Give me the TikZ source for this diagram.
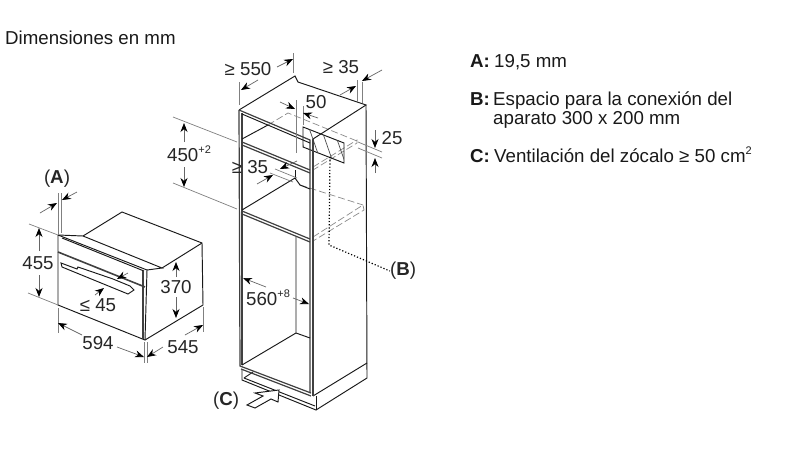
\documentclass[tikz,border=0pt]{standalone}
\usepackage{fontspec}
\setmainfont{Liberation Sans}
\usepackage{tikz}
\usetikzlibrary{calc, positioning, arrows.meta}

\tikzset{
	outline/.style={draw=black!90, line width=0.95pt},
	edge/.style={draw=black!75, line width=1.2pt},
	extline/.style={draw=black!50, line width=0.7pt},
	dimline/.style={draw=black!60, line width=0.7pt, -{Stealth[length=9pt, width=7pt, black]}},
	hidden/.style={draw=black!45, line width=0.7pt, dash pattern=on 7pt off 3pt},
	dimtext/.style={font=\fontsize{18.7}{21}\selectfont, text=black!85, inner sep=0pt},
	infotext/.style={font=\fontsize{18.7}{21}\selectfont, text=black!90, inner sep=0pt, anchor=base west}
}
\newcommand{\supertext}[1]{\raisebox{0.42em}{\fontsize{11}{11}\selectfont #1}}

\begin{document}
\begin{tikzpicture}[x=1pt, y=-1pt]
	\useasboundingbox (0,0) rectangle (800,450);
	\fill[white] (0,0) rectangle (800,450);

	\node[infotext] (title) at (5,44) {Dimensiones en mm};

	\node[infotext] (infoA) at (470,67) {\textbf{A:}};
	\node[infotext] (textA) at (494,67) {19,5 mm};
	\node[infotext] (infoB) at (470,105) {\textbf{B:}};
	\node[infotext] (textB) at (493,105) {Espacio para la conexión del};
	\node[infotext] (textBb) at (493,124) {aparato 300 x 200 mm};
	\node[infotext] (infoC) at (470,162) {\textbf{C:}};
	\node[infotext] (textC) at (494,162) {Ventilación del zócalo ≥ 50 cm\supertext{2}};

	% oven
	\coordinate (ovenfl) at (58,235);
	\coordinate (ovenbl) at (58,305);
	\coordinate (ovenbr) at (145,340);
	\coordinate (ovenfr) at (147,270);
	\coordinate (ovensb) at (203,305);
	\coordinate (ovenst) at (202,243);
	\coordinate (oventb) at (122,212);
	\coordinate (oventl) at (83,236);
	\coordinate (oventr) at (162,268);

	\draw[outline] (ovenfl) -- (ovenbl) -- (ovenbr) -- (ovensb) -- (ovenst) -- (oventb) -- (oventl) -- (ovenfl);
	\draw[outline] (oventl) -- (oventr) -- (ovenfr) -- (ovenbr);
	\draw[outline] (oventr) -- (ovenst);
	\draw[outline] (ovenfl) -- (ovenfr);
	\draw[outline] (62,238) -- (144,271);
	\draw[edge] (143,271) -- (143,339);
	\draw[edge, line width=1.6pt] (58,252) -- (145,287);
	\draw[outline, fill=white] (61,263) -- (62,267) -- (128,294) -- (134,290) -- (130,286) -- (113,279) -- (78,267) -- (77,269) -- cycle;

	% cabinet
	\coordinate (cabtl) at (239,110);
	\coordinate (cabtb) at (295,76);
	\coordinate (cabtr) at (366,105);
	\coordinate (cabtf) at (313,139);
	\coordinate (cabbr) at (367,378);
	\coordinate (cabbf) at (316,410);
	\coordinate (cabbl) at (240,366);
	\coordinate (cabpf) at (311,393);

	\draw[hidden] (268,125) -- (288,113) -- (357,141);
	\draw[hidden] (300,185) -- (363,205);
	\draw[hidden] (313,167) -- (357,140) -- (357,143) -- (313,170);
	\draw[hidden] (313,237) -- (363,205) -- (364,210) -- (313,241);

	\draw[outline] (cabtl) -- (cabtb) -- (298,82) -- (cabtr) -- (cabtf);
	\draw[outline] (cabtr) -- (cabbr) -- (cabbf) -- (242,380) -- (242,370);
	\draw[outline] (367,363) -- (313,396);
	\draw[outline] (244,378) -- (315,406);
	\draw[outline] (244,378) -- (253,372);
	\draw[outline] (316,396) -- (cabbf);

	% hatched opening
	\draw[outline] (303,127) -- (344,143) -- (344,163) -- (303,147) -- cycle;
	\begin{scope}
		\clip (303,127) -- (344,143) -- (344,163) -- (303,147) -- cycle;
		\foreach \hx in {296,308,...,356} {
			\draw[black!70, line width=0.7pt] (\hx,125) -- (\hx+15,168);
		}
	\end{scope}

	\draw[edge] (cabtl) -- (cabbl) -- (cabpf);
	\draw[edge] (242,113) -- (242,365);
	\draw[edge] (cabtl) -- (310,140) -- (310,393);
	\draw[edge] (313,139) -- (313,396);
	\draw[outline] (242,114) -- (310,143);

	\draw[outline] (242,139) -- (268,125);
	\draw[edge] (242,142) -- (310,170);
	\draw[edge] (242,145) -- (310,173);
	\draw[outline] (242,210) -- (295,178) -- (300,185) -- (310,189);
	\draw[outline] (295,170) -- (295,178);
	\draw[edge] (242,211) -- (310,239);
	\draw[edge] (242,214) -- (310,242);
	\draw[outline] (296,237) -- (296,333) -- (242,365);
	\draw[outline] (296,333) -- (310,338);
	\draw[edge] (241,369) -- (311,396);

	% dotted lead to (B)
	\coordinate (leadtop) at (330,157);
	\coordinate (leadbend) at (329,245);
	\node[dimtext] (labelB) at (403,271) {(\textbf{B})};
	\draw[black, line width=1.2pt, dotted] (leadtop) -- (leadbend) -- (labelB.west);

	% arrow (C)
	\node[dimtext] (labelC) at (226,401) {(\textbf{C})};
	\draw[outline, fill=white] (279,390) -- (278,402) -- (271,399) -- (255,408) -- (247,405) -- (263,396) -- (255,393) -- cycle;

	% oven dimensions
	\node[dimtext] (labelA) at (57,179) {(\textbf{A})};
	\draw[extline] (58,193) -- (ovenfl);
	\draw[extline] (61,193) -- (61,233);
	\draw[dimline] (40,213) -- (57,203);
	\draw[dimline] (77,192) -- (62,200);

	\node[dimtext] (dim455) at (38,263) {455};
	\draw[extline] (29,224) -- (ovenfl);
	\draw[extline] (28,293) -- (ovenbl);
	\draw[dimline] (39,251) -- (39,228);
	\draw[dimline] (39,275) -- (39,297);

	\node[dimtext] (dim594) at (98,343) {594};
	\draw[extline] (58,308) -- (58,333);
	\draw[extline] (144,342) -- (144,363);
	\draw[dimline] (82,335) -- (58,323);
	\draw[dimline] (117,347) -- (144,357);

	\node[dimtext] (dim545) at (183,347) {545};
	\draw[extline] (147,342) -- (147,363);
	\draw[extline] (203,307) -- (203,332);
	\draw[dimline] (163,347) -- (147,357);
	\draw[dimline] (185,335) -- (203,325);

	\node[dimtext] (dim370) at (176,287) {370};
	\draw[dimline] (176,277) -- (176,262);
	\draw[dimline] (176,297) -- (176,318);

	\node[dimtext] (dim45) at (98,305) {≤ 45};
	\draw[dimline] (95,295) -- (104,288);
	\draw[dimline] (128,273) -- (117,279);

	% cabinet dimensions
	\node[dimtext] (dim550) at (248,69) {≥ 550};
	\draw[extline] (239,82) -- (239,105);
	\draw[extline] (293,53) -- (293,73);
	\draw[dimline] (258,80) -- (241,90);
	\draw[dimline] (277,67) -- (293,59);

	\node[dimtext] (dim35a) at (341,67) {≥ 35};
	\draw[extline] (357,80) -- (357,102);
	\draw[extline] (362,82) -- (362,103);
	\draw[dimline] (340,95) -- (356,86);
	\draw[dimline] (382,70) -- (362,81);

	\node[dimtext] (dim50) at (316,102) {50};
	\draw[extline] (296,100) -- (296,153);
	\draw[extline] (303,106) -- (303,125);
	\draw[dimline] (280,102) -- (295,109);
	\draw[dimline] (318,118) -- (303,113);

	\node[dimtext] (dim25) at (392,138) {25};
	\draw[extline] (358,142) -- (382,152);
	\draw[extline] (358,148) -- (382,158);
	\draw[dimline] (375,130) -- (375,148);
	\draw[dimline] (375,173) -- (375,158);

	\node[dimtext] (dim450) at (189,154) {450\supertext{+2}};
	\draw[extline] (173,117) -- (237,142);
	\draw[extline] (173,183) -- (237,209);
	\draw[dimline] (184,142) -- (184,123);
	\draw[dimline] (184,167) -- (184,187);

	\node[dimtext] (dim35b) at (250,167) {≥ 35};
	\draw[extline] (275,169) -- (297,178);
	\draw[extline] (270,173) -- (293,182);
	\draw[dimline] (257,184) -- (273,175);
	\draw[dimline] (297,161) -- (280,169);

	\node[dimtext] (dim560) at (268,298) {560\supertext{+8}};
	\draw[dimline] (266,287) -- (243,278);
	\draw[dimline] (293,298) -- (309,304);
\end{tikzpicture}
\end{document}
